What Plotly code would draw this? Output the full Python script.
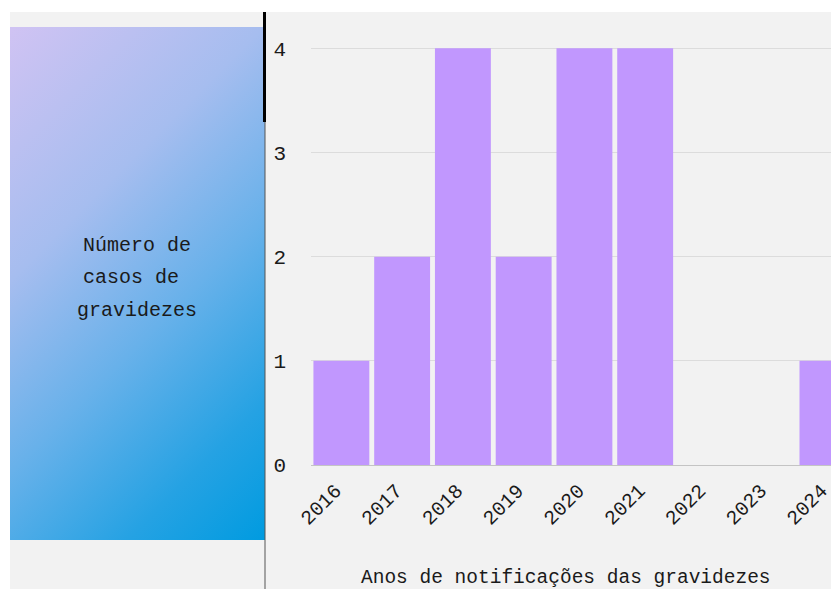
import base64
import plotly.graph_objects as go

# ---- data ----
anos = ["2016", "2017", "2018", "2019", "2020", "2021", "2022", "2023", "2024"]
casos = [1, 2, 4, 2, 4, 4, 0, 0, 1]
y_ticks = [0, 1, 2, 3, 4]
y_title_lines = ["Número de", "casos de ", "gravidezes"]
x_title = "Anos de notificações das gravidezes"

# ---- geometry (page has an 8px body margin) ----
OFF = 8
W, H = 839 - OFF, 589 - OFF
ML, MR, MT, MB = 303, 0, 9, 124
PW, PH = W - ML - MR, H - MT - MB


def px(x):  # x in window pixels -> paper
    return (x - OFF - ML) / PW


def py(y):  # y in window pixels -> paper
    return (H - MB - (y - OFF)) / PH


FONT = "Liberation Mono, DejaVu Sans Mono, monospace"

fig = go.Figure()
fig.add_trace(go.Bar(
    x=anos, y=casos,
    marker=dict(color="#c197fe", line=dict(width=0)),
    hoverinfo="x+y",
))

# gradient panel as svg image
svg = (
    '<svg xmlns="http://www.w3.org/2000/svg" width="255" height="513" viewBox="0 0 255 513" preserveAspectRatio="none">'
    '<defs><linearGradient id="g" gradientUnits="userSpaceOnUse" x1="0" y1="0" x2="384" y2="384">'
    '<stop offset="0" stop-color="#d0c3f3"/>'
    '<stop offset="0.33" stop-color="#a6bdef"/>'
    '<stop offset="0.58" stop-color="#68b1ea"/>'
    '<stop offset="0.82" stop-color="#25a2e3"/>'
    '<stop offset="1" stop-color="#009be0"/>'
    '</linearGradient></defs>'
    '<rect x="0" y="0" width="255" height="513" fill="url(#g)"/></svg>'
)
src = "data:image/svg+xml;base64," + base64.b64encode(svg.encode()).decode()
fig.add_layout_image(dict(
    source=src, xref="paper", yref="paper",
    x=px(10), y=py(27), sizex=px(265) - px(10), sizey=py(27) - py(540),
    xanchor="left", yanchor="top", sizing="stretch", layer="above",
))

shapes = [
    # white top strip and left strip
    dict(type="rect", xref="paper", yref="paper", x0=px(0), x1=px(900), y0=py(0), y1=py(12),
         fillcolor="white", line=dict(width=0), layer="above"),
    dict(type="rect", xref="paper", yref="paper", x0=px(0), x1=px(10), y0=py(0), y1=py(600),
         fillcolor="white", line=dict(width=0), layer="above"),
    # thin vertical separator
    dict(type="line", xref="paper", yref="paper", x0=px(265), x1=px(265), y0=py(12), y1=py(600),
         line=dict(color="#555555", width=1), layer="above"),
    # thick black segment
    dict(type="line", xref="paper", yref="paper", x0=px(264.5), x1=px(264.5), y0=py(12), y1=py(122),
         line=dict(color="#000000", width=3), layer="above"),
]

annotations = []
for i, line in enumerate(y_title_lines):
    annotations.append(dict(
        text=line, xref="paper", yref="paper", x=px(137), y=py(245 + i * 32.5),
        xanchor="center", yanchor="middle", showarrow=False,
        font=dict(family=FONT, size=20, color="#1a1a1a"),
    ))
annotations.append(dict(
    text=x_title, xref="paper", yref="paper", x=px(566), y=py(578),
    xanchor="center", yanchor="middle", showarrow=False,
    font=dict(family=FONT, size=19.5, color="#1a1a1a"),
))

fig.update_layout(
    width=W, height=H,
    margin=dict(l=ML, r=MR, t=MT, b=MB, pad=0),
    paper_bgcolor="#f2f2f2", plot_bgcolor="#f2f2f2",
    bargap=0.08,
    showlegend=False,
    shapes=shapes,
    annotations=annotations,
    xaxis=dict(
        type="category", range=[-0.5, 8.19],
        tickangle=-45, showgrid=False, zeroline=False, showline=False,
        ticks="", ticklabelstandoff=9, ticklabelshift=-6,
        tickfont=dict(family=FONT, size=20, color="#1a1a1a"),
        fixedrange=True,
    ),
    yaxis=dict(
        range=[0, 4.3], tickvals=y_ticks,
        showgrid=True, gridcolor="#dcdcdc", gridwidth=1,
        zeroline=True, zerolinecolor="#c4c4c4", zerolinewidth=1,
        showline=False, ticks="", ticklabelstandoff=24,
        tickfont=dict(family=FONT, size=21, color="#1a1a1a"),
        fixedrange=True,
    ),
)

fig.write_html("out.html", config={"displayModeBar": False})
